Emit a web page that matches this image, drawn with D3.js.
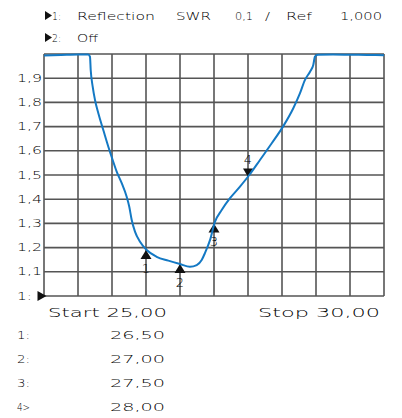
<!DOCTYPE html>
<html>
<head>
<meta charset="utf-8">
<script src="https://cdn.jsdelivr.net/npm/d3@7"></script>
<style>
  html, body { margin: 0; padding: 0; background: #fff; }
  svg { display: block; }
  text { font-family: "DejaVu Sans", "Liberation Sans", sans-serif; font-weight: 200; fill: #000; }
</style>
</head>
<body>
<svg id="chart" width="402" height="418"></svg>
<script>
// Sweep settings
const startFreq = 25.0;
const stopFreq = 30.0;
const refLevel = 1.0;
const swrTop = 2.0;

// SWR trace: frequency and measured SWR
const traceFreq = [
  25.00, 25.25, 25.50, 25.651, 25.676, 25.687, 25.716, 25.750, 25.799, 25.872,
  25.946, 26.010, 26.069, 26.143, 26.216, 26.254, 26.290, 26.338, 26.412, 26.510,
  26.657, 26.828, 27.000, 27.147, 27.246, 27.319, 27.368, 27.441, 27.515, 27.613,
  27.735, 27.882, 28.019, 28.176, 28.349, 28.519, 28.666, 28.765, 28.838, 28.912,
  28.960, 28.985, 29.025, 29.250, 29.500, 29.750, 30.00
];
const traceSwr = [
  1.994, 1.996, 1.998, 1.998, 1.989, 1.934, 1.865, 1.810, 1.755, 1.686,
  1.617, 1.562, 1.514, 1.466, 1.410, 1.369, 1.314, 1.266, 1.224, 1.190,
  1.162, 1.146, 1.132, 1.121, 1.128, 1.149, 1.178, 1.231, 1.307, 1.355,
  1.404, 1.452, 1.500, 1.562, 1.631, 1.702, 1.776, 1.838, 1.893, 1.927,
  1.955, 1.989, 1.997, 1.998, 1.997, 1.996, 1.995
];

// Markers
const markerIds = ["1", "2", "3", "4"];
const markerFreq = [26.50, 27.00, 27.50, 28.00];
const markerSwr = [1.190, 1.132, 1.300, 1.493];
const markerPrefix = ["1:", "2:", "3:", "4>"];
const activeMarker = "4";

// Axis ticks
const yTickValues = [1.0, 1.1, 1.2, 1.3, 1.4, 1.5, 1.6, 1.7, 1.8, 1.9];
const yTickLabels = ["1:", "1,1", "1,2", "1,3", "1,4", "1,5", "1,6", "1,7", "1,8", "1,9"];
const xGridValues = [25.0, 25.5, 26.0, 26.5, 27.0, 27.5, 28.0, 28.5, 29.0, 29.5, 30.0];

const fmt = v => v.toFixed(2).replace(".", ",");

const svg = d3.select("#chart");
const plot = { left: 44, right: 384, top: 54, bottom: 296 };

const x = d3.scaleLinear().domain([startFreq, stopFreq]).range([plot.left, plot.right]);
const y = d3.scaleLinear().domain([refLevel, swrTop]).range([plot.bottom, plot.top]);

const gridColor = "#555";

function tri(g, cx, cy, w, h, dir) {
  let pts;
  if (dir === "right") pts = [[cx - w / 2, cy - h / 2], [cx + w / 2, cy], [cx - w / 2, cy + h / 2]];
  else if (dir === "up") pts = [[cx, cy - h / 2], [cx + w / 2, cy + h / 2], [cx - w / 2, cy + h / 2]];
  else pts = [[cx - w / 2, cy - h / 2], [cx + w / 2, cy - h / 2], [cx, cy + h / 2]];
  return g.append("polygon").attr("points", pts.map(p => p.join(",")).join(" ")).attr("fill", "#111");
}
function stretchText(g, str, x0, baseline, width, size) {
  return g.append("text")
    .attr("x", x0).attr("y", baseline)
    .attr("font-size", size)
    .attr("textLength", width)
    .attr("lengthAdjust", "spacingAndGlyphs")
    .text(str);
}

// Header lines
const header = svg.append("g");
tri(header, 48.5, 15.5, 7, 9, "right");
tri(header, 48.5, 37.5, 7, 9, "right");
const h1 = [
  ["1:", 52, 9], ["Reflection", 77, 78], ["SWR", 176, 35], ["0,1", 235, 18],
  ["/", 265, 5], ["Ref", 286, 26], [d3.format(".3f")(refLevel).replace(".", ","), 340, 42]
];
h1.forEach(([s, x0, w]) => stretchText(header, s, x0, 19.5, w, 11));
[["2:", 52, 9], ["Off", 77, 21]].forEach(([s, x0, w]) => stretchText(header, s, x0, 41.5, w, 11));

// Graticule
const grid = svg.append("g");
grid.selectAll("line.v").data(xGridValues).join("line")
  .attr("x1", d => x(d)).attr("x2", d => x(d))
  .attr("y1", plot.top).attr("y2", plot.bottom)
  .attr("stroke", gridColor).attr("stroke-width", 1.6);
grid.selectAll("line.h").data(yTickValues.concat([swrTop])).join("line")
  .attr("x1", plot.left).attr("x2", plot.right)
  .attr("y1", d => y(d)).attr("y2", d => y(d))
  .attr("stroke", gridColor).attr("stroke-width", 1.6);

// Y axis labels
const yAxis = d3.axisLeft(y).tickValues(yTickValues)
  .tickFormat((d, i) => yTickLabels[i]).tickSize(0).tickPadding(0);
const yg = svg.append("g").attr("transform", `translate(${plot.left},0)`).call(yAxis);
yg.select(".domain").remove();
yg.selectAll(".tick text")
  .attr("x", -27).attr("dy", null).attr("y", 3)
  .attr("text-anchor", "start")
  .attr("fill", "#000")
  .style("font-family", '"DejaVu Sans", sans-serif')
  .style("font-weight", 200)
  .attr("font-size", 11)
  .attr("textLength", (d, i) => yTickLabels[i] === "1:" ? 15 : 25)
  .attr("lengthAdjust", "spacingAndGlyphs");

// Reference level pointer
tri(svg, plot.left - 2, y(refLevel), 9, 10, "right");

// Markers (drawn beneath the trace)
const mg = svg.append("g");
markerIds.forEach((id, i) => {
  const mx = x(markerFreq[i]);
  const my = y(markerSwr[i]);
  if (id === activeMarker) {
    tri(mg, mx, my - 4, 10, 8.5, "down");
    mg.append("text").attr("x", mx).attr("y", my - 13)
      .attr("text-anchor", "middle").attr("font-size", 13).text(id);
  } else {
    tri(mg, mx, my + 4.5, 11, 9, "up");
    mg.append("text").attr("x", mx).attr("y", my + 23)
      .attr("text-anchor", "middle").attr("font-size", 13).text(id);
  }
});

// Trace
const tracePts = traceFreq.map((f, i) => [f, traceSwr[i]]);
const line = d3.line().x(d => x(d[0])).y(d => y(d[1])).curve(d3.curveMonotoneX);
svg.append("path")
  .attr("d", line(tracePts))
  .attr("fill", "none")
  .attr("stroke", "#1479c4")
  .attr("stroke-width", 2)
  .attr("stroke-linejoin", "round");

// Start / stop readout
const foot = svg.append("g");
stretchText(foot, "Start " + fmt(startFreq), 48, 317, 119, 12);
stretchText(foot, "Stop " + fmt(stopFreq), 258, 317, 122, 12);

// Marker table
const rowBase = [339.3, 363.3, 387, 410.5];
markerIds.forEach((id, i) => {
  stretchText(foot, markerPrefix[i], 17, rowBase[i], 13, 11);
  stretchText(foot, fmt(markerFreq[i]), 110, rowBase[i], 55, 11);
});
</script>
</body>
</html>
